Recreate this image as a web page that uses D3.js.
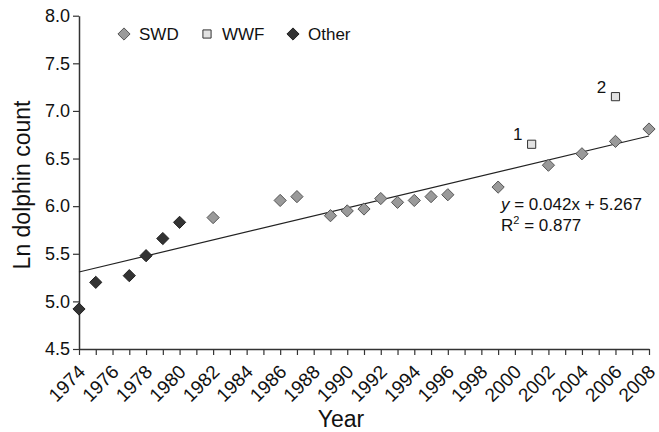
<!DOCTYPE html>
<html>
<head>
<meta charset="utf-8">
<script src="https://cdn.jsdelivr.net/npm/d3@7"></script>
<style>
  body { margin: 0; background: #fff; }
  svg { display: block; font-family: "Liberation Sans", Arial, Helvetica, sans-serif; }
</style>
</head>
<body>
<script>
// data
var swdYears  = [1982, 1986, 1987, 1989, 1990, 1991, 1992, 1993, 1994, 1995, 1996, 1999, 2002, 2004, 2006, 2008];
var swdValues = [5.88, 6.06, 6.10, 5.90, 5.95, 5.97, 6.08, 6.04, 6.06, 6.10, 6.12, 6.20, 6.43, 6.55, 6.68, 6.81];

var wwfYears  = [2001, 2006];
var wwfValues = [6.65, 7.15];
var wwfLabels = ["1", "2"];

var otherYears  = [1974, 1975, 1977, 1978, 1979, 1980];
var otherValues = [4.92, 5.20, 5.27, 5.48, 5.66, 5.83];

// trend: y = 0.042x + 5.267, x = 1 in 1974
var trendSlope = 0.042;
var trendIntercept = 5.267;

var yTicks = [4.5, 5.0, 5.5, 6.0, 6.5, 7.0, 7.5, 8.0];

var width = 659, height = 432;

var svg = d3.select("body")
  .append("svg")
  .attr("width", width)
  .attr("height", height);

var x = d3.scaleLinear().domain([1974, 2008]).range([79, 649]);
var y = d3.scaleLinear().domain([4.5, 8.0]).range([349, 15.7]);

// #region AXES
var yAxis = svg.append("g")
  .attr("transform", "translate(79,0)")
  .call(d3.axisLeft(y).tickValues(yTicks).tickFormat(d3.format(".1f")).tickSize(6).tickPadding(3).tickSizeOuter(0));

yAxis.select(".domain").attr("stroke", "#333").attr("stroke-width", 1.5);
yAxis.selectAll(".tick line").attr("stroke", "#333").attr("stroke-width", 1.2);
yAxis.selectAll(".tick text")
  .attr("font-size", "18px")
  .attr("fill", "#111")
  .style("font-family", "'Liberation Sans', Arial, sans-serif");

var xAxis = svg.append("g")
  .attr("transform", "translate(0,349)")
  .call(d3.axisBottom(x).tickValues(d3.range(1974, 2009, 1)).tickFormat(d => d % 2 == 0 ? d : "").tickSize(6).tickSizeOuter(0));

xAxis.select(".domain").attr("stroke", "#333").attr("stroke-width", 1.5);
xAxis.selectAll(".tick line").attr("stroke", "#333").attr("stroke-width", 1.2);
xAxis.selectAll(".tick text")
  .attr("font-size", "19px")
  .attr("fill", "#111")
  .attr("text-anchor", "end")
  .attr("x", 0)
  .attr("y", 0)
  .attr("dy", 0)
  .attr("transform", "translate(7,24) rotate(-45)")
  .style("font-family", "'Liberation Sans', Arial, sans-serif");

svg.append("text")
  .text("Ln dolphin count")
  .attr("transform", "translate(30,185) rotate(-90)")
  .attr("text-anchor", "middle")
  .attr("font-size", "23px")
  .attr("fill", "#111");

svg.append("text")
  .text("Year")
  .attr("x", 341)
  .attr("y", 427)
  .attr("text-anchor", "middle")
  .attr("font-size", "23px")
  .attr("fill", "#111");
// #endregion

// #region TREND LINE
var trendLine = d3.line()
  .x(d => x(d))
  .y(d => y(trendIntercept + trendSlope * (d - 1973)));

svg.append("path")
  .datum([1974, 2008])
  .attr("d", trendLine)
  .attr("fill", "none")
  .attr("stroke", "#222")
  .attr("stroke-width", 1.2);
// #endregion

// #region POINTS
var diamond = d3.symbol().type(d3.symbolDiamond2).size(95);
var square = d3.symbol().type(d3.symbolSquare2).size(85);

svg.append("g")
  .selectAll("path")
  .data(otherYears.map((d, i) => ({year: d, value: otherValues[i]})))
  .enter()
  .append("path")
    .attr("d", diamond)
    .attr("transform", d => "translate(" + x(d.year) + "," + y(d.value) + ")")
    .attr("fill", "#333")
    .attr("stroke", "#222")
    .attr("stroke-width", 1);

svg.append("g")
  .selectAll("path")
  .data(swdYears.map((d, i) => ({year: d, value: swdValues[i]})))
  .enter()
  .append("path")
    .attr("d", diamond)
    .attr("transform", d => "translate(" + x(d.year) + "," + y(d.value) + ")")
    .attr("fill", "#9a9a9a")
    .attr("stroke", "#555")
    .attr("stroke-width", 1);

var wwf = svg.append("g")
  .selectAll("g")
  .data(wwfYears.map((d, i) => ({year: d, value: wwfValues[i], label: wwfLabels[i]})))
  .enter()
  .append("g")
    .attr("transform", d => "translate(" + x(d.year) + "," + y(d.value) + ")");

wwf.append("path")
  .attr("d", square)
  .attr("fill", "#e2e2e2")
  .attr("stroke", "#333")
  .attr("stroke-width", 1);

wwf.append("text")
  .text(d => d.label)
  .attr("x", -14)
  .attr("y", -4)
  .attr("text-anchor", "middle")
  .attr("font-size", "17px")
  .attr("fill", "#111");
// #endregion

// #region EQUATION
var eq = svg.append("text")
  .attr("x", 501)
  .attr("y", 210)
  .attr("font-size", "17px")
  .attr("fill", "#111");
eq.append("tspan").text("y").style("font-style", "italic");
eq.append("tspan").text(" = 0.042x + 5.267");

var r2 = svg.append("text")
  .attr("x", 501)
  .attr("y", 231)
  .attr("font-size", "17px")
  .attr("fill", "#111");
r2.append("tspan").text("R");
r2.append("tspan").text("2").attr("font-size", "11px").attr("dy", "-7");
r2.append("tspan").text(" = 0.877").attr("dy", "7");
// #endregion

// #region LEGEND
var legendData = [
  {name: "SWD", x: 124, shape: diamond, fill: "#9a9a9a", stroke: "#555"},
  {name: "WWF", x: 207, shape: square, fill: "#e2e2e2", stroke: "#333"},
  {name: "Other", x: 293, shape: diamond, fill: "#333", stroke: "#222"}
];

var legend = svg.append("g")
  .selectAll("g")
  .data(legendData)
  .enter()
  .append("g")
    .attr("transform", d => "translate(" + d.x + ",34)");

legend.append("path")
  .attr("d", d => d.shape())
  .attr("fill", d => d.fill)
  .attr("stroke", d => d.stroke)
  .attr("stroke-width", 1);

legend.append("text")
  .text(d => d.name)
  .attr("x", 15)
  .attr("y", 6)
  .attr("font-size", "17px")
  .attr("fill", "#111");
// #endregion
</script>
</body>
</html>
